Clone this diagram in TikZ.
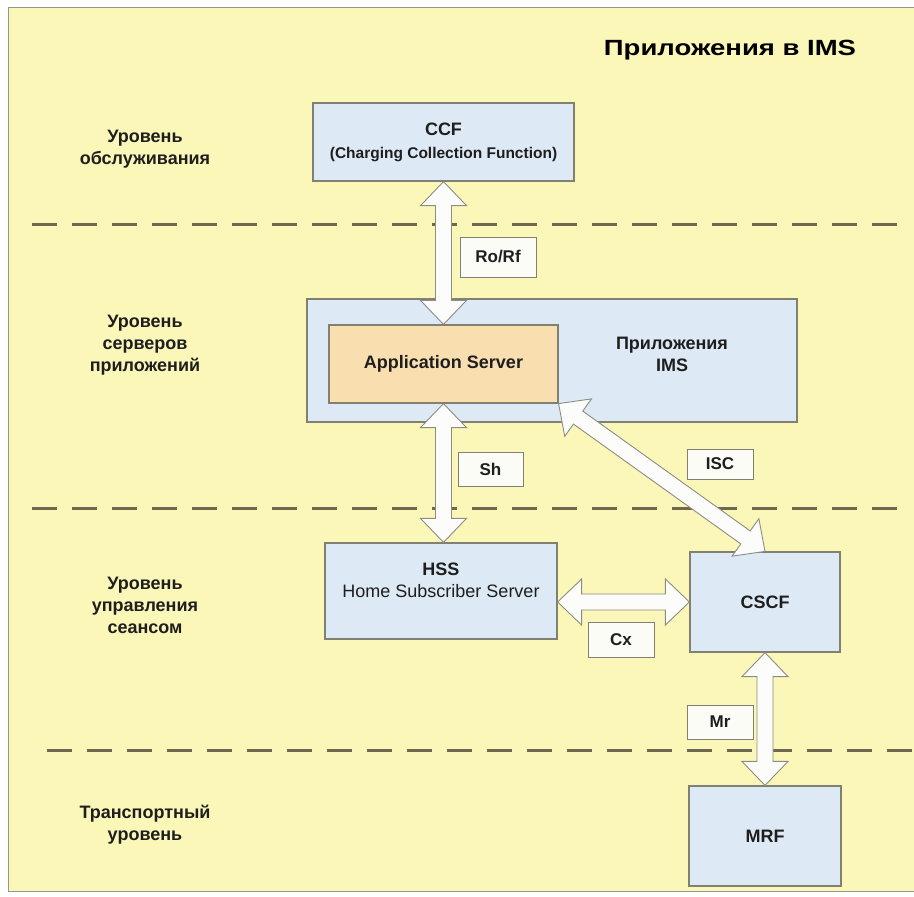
\documentclass[tikz,border=0pt]{standalone}
\usepackage{fontspec}
\setmainfont{Liberation Sans}
\usetikzlibrary{calc}
\definecolor{bgyellow}{RGB}{251,247,184}
\definecolor{bgborder}{RGB}{150,150,140}
\definecolor{boxblue}{RGB}{221,233,245}
\definecolor{asorange}{RGB}{249,222,176}
\definecolor{boxline}{RGB}{130,128,115}
\definecolor{dashcol}{RGB}{110,104,80}
\definecolor{arrowfill}{RGB}{252,252,250}
\definecolor{arrowline}{RGB}{140,140,130}
\definecolor{labelfill}{RGB}{252,252,246}
\definecolor{txt}{RGB}{30,30,30}
\tikzset{
  box/.style={draw=boxline, line width=1.2pt, fill=boxblue, inner sep=0pt, text=txt,
    font=\bfseries\fontsize{18}{22}\selectfont, align=center},
  lblbox/.style={draw=boxline, line width=1pt, fill=labelfill, inner sep=0pt, text=txt,
    font=\bfseries\fontsize{17}{20}\selectfont},
  layer/.style={font=\bfseries\fontsize{18}{22}\selectfont, align=center, inner sep=0pt, text=txt},
  sepline/.style={draw=dashcol, line width=3pt, dash pattern=on 25pt off 15pt},
  fat/.style={fill=arrowfill, draw=arrowline, line width=0.9pt, line join=miter},
}
\newcommand\fatarrow[2]{%
  \coordinate (fa1) at ($(#1)!24pt!(#2)$);
  \coordinate (fa2) at ($(#2)!24pt!(#1)$);
  \draw[fat] (#1) -- ($(fa1)!23pt!90:(#2)$) -- ($(fa1)!8pt!90:(#2)$)
    -- ($(fa2)!8pt!-90:(#1)$) -- ($(fa2)!23pt!-90:(#1)$) -- (#2)
    -- ($(fa2)!23pt!90:(#1)$) -- ($(fa2)!8pt!90:(#1)$)
    -- ($(fa1)!8pt!-90:(#2)$) -- ($(fa1)!23pt!-90:(#2)$) -- cycle;
}
\begin{document}
\begin{tikzpicture}[x=1pt,y=-1pt]
\useasboundingbox (0,0) rectangle (914,897);
% background
\fill[bgyellow] (8,7) rectangle (914,891);
\draw[bgborder, line width=1pt] (914,891) -- (8,891) -- (8,7) -- (914,7);

% title
\node[inner sep=0pt, text=black, font=\bfseries\fontsize{22}{26}\selectfont] (title) at (730,50)
  {\scalebox{1.25}[1]{Приложения в IMS}};

% layer separators
\coordinate (s1a) at (32,224);  \coordinate (s1b) at (897,224);
\coordinate (s2a) at (32,508);  \coordinate (s2b) at (900,508);
\coordinate (s3a) at (47,750);  \coordinate (s3b) at (912,750);
\draw[sepline] (s1a) -- (s1b);
\draw[sepline] (s2a) -- (s2b);
\draw[sepline] (s3a) -- (s3b);

% layer labels
\node[layer] (l1) at (145,149) {Уровень\\обслуживания};
\node[layer] (l2) at (145,345) {Уровень\\серверов\\приложений};
\node[layer] (l3) at (145,605) {Уровень\\управления\\сеансом};
\node[layer] (l4) at (145,825) {Транспортный\\уровень};

% boxes
\node[box, minimum width=261pt, minimum height=78pt] (ccf) at (443.5,142)
  {CCF\\[1pt]{\fontsize{15.5}{18}\selectfont (Charging Collection Function)}};
\node[box, minimum width=490pt, minimum height=123pt] (ims) at (552,360.5) {};
\node[box, fill=asorange, minimum width=229pt, minimum height=78pt] (as) at (443.5,364)
  {Application Server};
\node[layer] (imstext) at (672,354) {Приложения\\IMS};
\node[box, minimum width=232pt, minimum height=96pt] (hss) at (441,591) {};
\node[layer] (hsstext) at (441,580) {HSS\\{\mdseries Home Subscriber Server}};
\node[box, minimum width=150pt, minimum height=100pt] (cscf) at (765,602) {CSCF};
\node[box, minimum width=152pt, minimum height=100pt] (mrf) at (765,836) {MRF};

% interface arrows
\coordinate (asb) at (as.south -| ccf.south);
\coordinate (hsst) at (hss.north -| ccf.south);
\coordinate (hsse) at (hss.east |- cscf.west);
\fatarrow{ccf.south}{as.north}
\fatarrow{asb}{hsst}
\fatarrow{as.south east}{cscf.north}
\fatarrow{hsse}{cscf.west}
\fatarrow{cscf.south}{mrf.north}

% interface labels
\node[lblbox, minimum width=76pt, minimum height=40pt] (rorf) at (498,257) {Ro/Rf};
\node[lblbox, minimum width=65pt, minimum height=34pt] (sh) at (490.5,469) {Sh};
\node[lblbox, minimum width=66pt, minimum height=30pt] (isc) at (720,464) {ISC};
\node[lblbox, minimum width=66pt, minimum height=35pt] (cx) at (621,639.5) {Cx};
\node[lblbox, minimum width=66pt, minimum height=34pt] (mr) at (720,722) {Mr};
\end{tikzpicture}
\end{document}
